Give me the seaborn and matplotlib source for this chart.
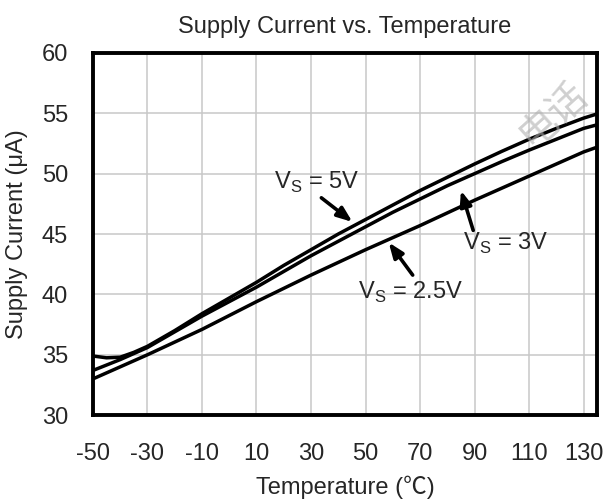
import numpy as np
import pandas as pd
import seaborn as sns
import matplotlib.pyplot as plt

# values
temp_5v = [-50, -45, -40, -35, -30, -20, -10, 0, 10, 20, 30, 40, 50, 60, 70, 80, 90, 100, 110, 120, 130, 135]
curr_5v = [34.9, 34.75, 34.8, 35.2, 35.7, 37.0, 38.4, 39.7, 41.0, 42.4, 43.7, 45.0, 46.2, 47.4, 48.6, 49.7, 50.8, 51.85, 52.85, 53.75, 54.6, 54.95]

temp_3v = [-50, -40, -30, -20, -10, 0, 10, 20, 30, 40, 50, 60, 70, 80, 90, 100, 110, 120, 130, 135]
curr_3v = [33.7, 34.6, 35.6, 36.9, 38.2, 39.4, 40.6, 41.9, 43.2, 44.4, 45.6, 46.8, 47.9, 49.0, 50.0, 51.0, 51.95, 52.85, 53.75, 54.05]

temp_25v = [-50, -30, -10, 10, 30, 50, 70, 90, 110, 130, 135]
curr_25v = [33.0, 35.0, 37.1, 39.4, 41.6, 43.7, 45.7, 47.8, 49.8, 51.8, 52.2]

x_ticks = [-50, -30, -10, 10, 30, 50, 70, 90, 110, 130]
y_ticks = [30, 35, 40, 45, 50, 55, 60]

df = pd.concat([
    pd.DataFrame({"temp": temp_5v, "current": curr_5v, "vs": "5V"}),
    pd.DataFrame({"temp": temp_3v, "current": curr_3v, "vs": "3V"}),
    pd.DataFrame({"temp": temp_25v, "current": curr_25v, "vs": "2.5V"}),
])

sns.set_style("white")
plt.rcParams['font.family'] = ['Liberation Sans', 'DejaVu Sans']
plt.rcParams['mathtext.fontset'] = 'custom'
plt.rcParams['mathtext.rm'] = 'Liberation Sans'
plt.rcParams['axes.unicode_minus'] = False

fs = 17

fig = plt.figure(figsize=(6.07, 4.99), dpi=100)
ax = fig.add_axes([0.153, 0.168, 0.831, 0.726])

sns.lineplot(data=df, x="temp", y="current", hue="vs", units="vs", estimator=None,
             palette=["black", "black", "black"], linewidth=2.5, legend=False, ax=ax, sort=True)

ax.set_xlim(-50, 135)
ax.set_ylim(30, 60)
ax.set_xticks(x_ticks)
ax.set_yticks(y_ticks)
ax.tick_params(axis='y', labelsize=fs, length=0, pad=18)
ax.tick_params(axis='x', labelsize=fs, length=0, pad=20)
ax.grid(True, color='#c8c8c8', linewidth=1.1)
for s in ax.spines.values():
    s.set_linewidth(2.8)
    s.set_color('black')

ax.set_xlabel('Temperature (\u2103)', fontsize=fs, labelpad=8,
              family=['Liberation Sans', 'Noto Sans CJK SC'])
ax.set_ylabel('Supply Current (\u03bcA)', fontsize=fs, labelpad=10)
ax.set_title('Supply Current vs. Temperature', fontsize=fs, pad=14)

# labels and arrows
arrow = dict(arrowstyle='-|>,head_length=0.9,head_width=0.35', color='black', lw=2.6,
             shrinkA=0, shrinkB=0)
ax.text(32.0, 49.3, r'V$_\mathregular{S}$ = 5V', fontsize=fs, ha='center', va='center')
ax.annotate('', xy=(45.2, 46.0), xytext=(33.8, 48.0), arrowprops=arrow)
ax.text(101.5, 44.2, r'V$_\mathregular{S}$ = 3V', fontsize=fs, ha='center', va='center')
ax.annotate('', xy=(85.0, 48.6), xytext=(89.5, 45.3), arrowprops=arrow)
ax.text(66.5, 40.2, r'V$_\mathregular{S}$ = 2.5V', fontsize=fs, ha='center', va='center')
ax.annotate('', xy=(58.5, 44.3), xytext=(67.3, 41.6), arrowprops=arrow)

# faint watermark text
fig.text(0.91, 0.77, '电话', fontsize=28, color='#b0b0b0', alpha=0.6, rotation=42,
         family=['Noto Sans CJK SC', 'DejaVu Sans'], ha='center', va='center')

fig.savefig('out.png', dpi=100)
